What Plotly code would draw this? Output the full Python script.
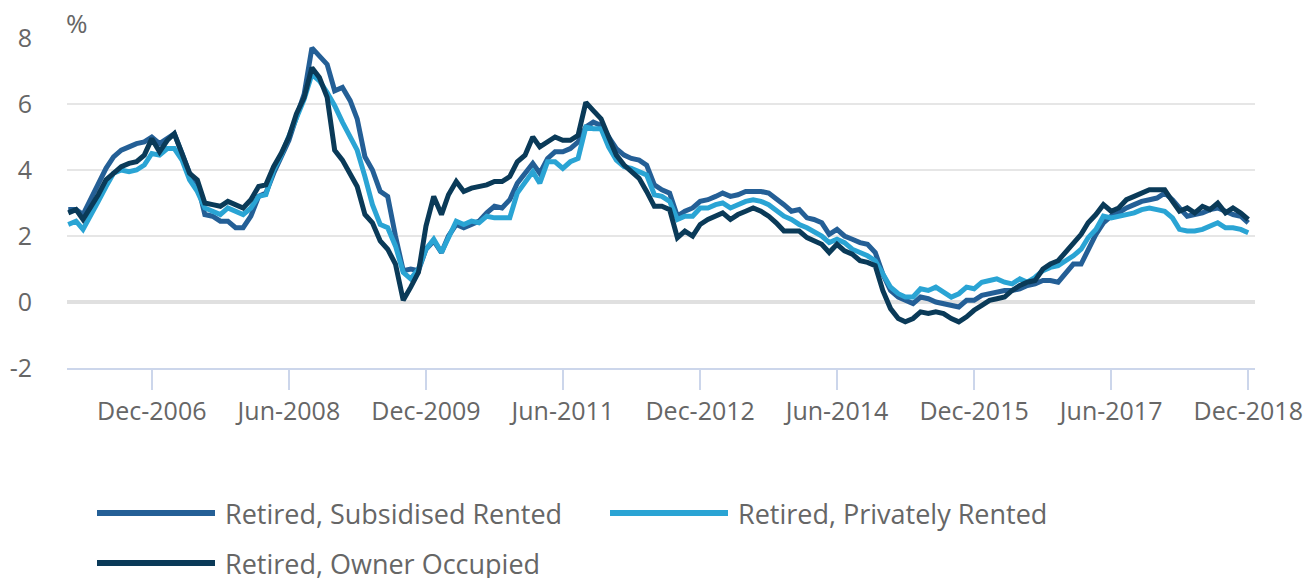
import pandas as pd
import plotly.graph_objects as go

dates = pd.date_range("2006-01-01", periods=156, freq="MS")

subsidised = [
    2.8, 2.8, 2.65, 3.1, 3.6, 4.05, 4.4, 4.6, 4.7, 4.8, 4.85, 5.0,
    4.8, 4.95, 5.1, 4.5, 3.9, 3.6, 2.65, 2.6, 2.45, 2.45, 2.25, 2.25,
    2.6, 3.2, 3.3, 3.9, 4.4, 4.9, 5.6, 6.3, 7.7, 7.45, 7.2, 6.4,
    6.5, 6.1, 5.55, 4.4, 4.0, 3.35, 3.2, 2.0, 0.95, 1.0, 0.95, 1.6,
    1.85, 1.5, 2.0, 2.35, 2.25, 2.35, 2.45, 2.7, 2.9, 2.85, 3.1, 3.6,
    3.9, 4.2, 3.9, 4.35, 4.55, 4.55, 4.65, 4.85, 5.3, 5.45, 5.35, 5.0,
    4.65, 4.45, 4.35, 4.3, 4.15, 3.55, 3.4, 3.3, 2.6, 2.75, 2.85, 3.05,
    3.1, 3.2, 3.3, 3.2, 3.25, 3.35, 3.35, 3.35, 3.3, 3.15, 2.95, 2.75,
    2.8, 2.55, 2.5, 2.4, 2.05, 2.2, 2.0, 1.9, 1.8, 1.75, 1.5, 0.85,
    0.35, 0.15, 0.05, -0.05, 0.15, 0.1, 0.0, -0.05, -0.1, -0.15, 0.05, 0.05,
    0.2, 0.25, 0.3, 0.35, 0.35, 0.4, 0.5, 0.55, 0.65, 0.65, 0.6, 0.9,
    1.15, 1.15, 1.6, 2.05, 2.4, 2.6, 2.7, 2.85, 2.95, 3.05, 3.1, 3.15,
    3.3, 3.1, 2.85, 2.6, 2.65, 2.7, 2.8, 2.85, 2.75, 2.65, 2.6, 2.4,
]

private = [
    2.35, 2.45, 2.2, 2.6, 3.05, 3.5, 3.9, 4.0, 3.95, 4.0, 4.15, 4.5,
    4.45, 4.65, 4.65, 4.3, 3.7, 3.35, 2.85, 2.75, 2.65, 2.85, 2.75, 2.65,
    2.85, 3.2, 3.25, 4.0, 4.45, 5.0, 5.6, 6.15, 6.9, 6.7, 6.35, 5.95,
    5.45, 5.0, 4.6, 3.8, 2.95, 2.35, 2.25, 1.7, 0.9, 0.7, 1.0, 1.6,
    1.9, 1.5, 1.95, 2.45, 2.35, 2.45, 2.4, 2.6, 2.55, 2.55, 2.55, 3.3,
    3.6, 3.95, 3.6, 4.25, 4.25, 4.05, 4.25, 4.35, 5.3, 5.25, 5.25, 4.7,
    4.3, 4.1, 4.05, 3.95, 3.85, 3.25, 3.2, 3.05, 2.5, 2.6, 2.6, 2.85,
    2.85, 2.95, 3.0, 2.85, 2.95, 3.05, 3.1, 3.05, 2.95, 2.8, 2.6, 2.5,
    2.35, 2.25, 2.15, 2.0, 1.8, 1.9, 1.8, 1.6, 1.5, 1.4, 1.25, 0.85,
    0.45, 0.25, 0.15, 0.15, 0.4, 0.35, 0.45, 0.3, 0.15, 0.25, 0.45, 0.4,
    0.6, 0.65, 0.7, 0.6, 0.55, 0.7, 0.6, 0.75, 0.95, 1.05, 1.1, 1.25,
    1.4, 1.6, 1.95, 2.2, 2.6, 2.55, 2.6, 2.65, 2.7, 2.8, 2.85, 2.8,
    2.75, 2.55, 2.2, 2.15, 2.15, 2.2, 2.3, 2.4, 2.25, 2.25, 2.2, 2.1,
]

owner = [
    2.7, 2.8, 2.5, 2.85, 3.25, 3.7, 3.9, 4.1, 4.2, 4.25, 4.45, 4.95,
    4.55, 4.9, 5.1, 4.5, 3.9, 3.7, 3.0, 2.95, 2.9, 3.05, 2.95, 2.85,
    3.1, 3.5, 3.55, 4.1, 4.5, 5.0, 5.7, 6.2, 7.1, 6.8, 6.2, 4.6,
    4.3, 3.9, 3.5, 2.65, 2.4, 1.85, 1.6, 1.15, 0.05, 0.45, 0.9, 2.3,
    3.2, 2.65, 3.25, 3.65, 3.35, 3.45, 3.5, 3.55, 3.65, 3.65, 3.8, 4.25,
    4.45, 5.0, 4.7, 4.85, 5.0, 4.9, 4.9, 5.05, 6.05, 5.8, 5.55, 5.0,
    4.45, 4.15, 3.95, 3.75, 3.35, 2.9, 2.9, 2.8, 1.95, 2.15, 2.0, 2.35,
    2.5, 2.6, 2.7, 2.5, 2.65, 2.75, 2.85, 2.75, 2.6, 2.4, 2.15, 2.15,
    2.15, 1.95, 1.85, 1.75, 1.5, 1.75, 1.55, 1.45, 1.25, 1.2, 1.1, 0.35,
    -0.2, -0.5, -0.6, -0.5, -0.3, -0.35, -0.3, -0.35, -0.5, -0.6, -0.45, -0.25,
    -0.1, 0.05, 0.1, 0.15, 0.35, 0.5, 0.6, 0.65, 1.0, 1.15, 1.25, 1.5,
    1.75, 2.05, 2.4, 2.65, 2.95, 2.75, 2.85, 3.1, 3.2, 3.3, 3.4, 3.4,
    3.4, 3.05, 2.75, 2.85, 2.7, 2.9, 2.8, 3.0, 2.7, 2.85, 2.7, 2.5,
]

series_names = ["Retired, Subsidised Rented", "Retired, Privately Rented", "Retired, Owner Occupied"]
series_values = [subsidised, private, owner]
colors = ["#245f96", "#2aa4d4", "#0a3a58"]

tick_dates = ["2006-12-01", "2008-06-01", "2009-12-01", "2011-06-01", "2012-12-01",
              "2014-06-01", "2015-12-01", "2017-06-01", "2018-12-01"]
tick_labels = ["Dec-2006", "Jun-2008", "Dec-2009", "Jun-2011", "Dec-2012",
               "Jun-2014", "Dec-2015", "Jun-2017", "Dec-2018"]
y_ticks = [-2, 0, 2, 4, 6, 8]
y_labels = ["-2", "0", "2", "4", "6", "8"]

FONT = "Open Sans"
TXT = "#666666"

FIG_W, FIG_H = 1307, 578
L, R, T, B = 67, 1255, 38, 368   # plot area in page pixels
W, H = R - L, B - T

def px(x):
    return (x - L) / W

def py(y):
    return (B - y) / H

fig = go.Figure()
for name, vals, col in zip(series_names, series_values, colors):
    fig.add_trace(go.Scatter(x=dates, y=vals, name=name, mode="lines",
                             line=dict(color=col, width=5), showlegend=False))

# custom legend (long line symbols)
legend_pos = [(97, 513), (610, 513), (97, 563)]
for (lx, ly), name, col in zip(legend_pos, series_names, colors):
    fig.add_shape(type="line", xref="paper", yref="paper",
                  x0=px(lx), x1=px(lx + 118), y0=py(ly), y1=py(ly),
                  line=dict(color=col, width=6))
    fig.add_annotation(xref="paper", yref="paper", x=px(lx + 126), y=py(ly),
                       text=name, showarrow=False, xanchor="left", yanchor="middle",
                       font=dict(family=FONT, size=27, color=TXT))

fig.add_annotation(xref="paper", yref="paper", x=px(64), y=py(23), text="%",
                   showarrow=False, xanchor="left", yanchor="middle",
                   font=dict(family=FONT, size=26, color=TXT))

fig.update_layout(
    width=FIG_W, height=FIG_H,
    margin=dict(l=L, r=FIG_W - R, t=T, b=FIG_H - B, autoexpand=False),
    paper_bgcolor="white", plot_bgcolor="white",
    font=dict(family=FONT, color=TXT, size=25),
    showlegend=False,
    hovermode=False,
)
fig.update_xaxes(
    type="date", automargin=False,
    range=["2005-12-27", "2018-12-28"],
    tickvals=tick_dates, ticktext=tick_labels,
    showgrid=False,
    showline=True, linecolor="#ccd6eb", linewidth=2,
    ticks="outside", ticklen=20, tickwidth=2, tickcolor="#ccd6eb",
    tickfont=dict(family=FONT, size=25, color=TXT),
    zeroline=False,
)
fig.update_yaxes(
    automargin=False,
    range=[-2, 8], tickvals=y_ticks, ticktext=y_labels,
    showgrid=True, gridcolor="#e6e6e6", gridwidth=2,
    zeroline=True, zerolinecolor="#e0e0e0", zerolinewidth=4,
    showline=False, ticks="", ticklabelstandoff=34,
    tickfont=dict(family=FONT, size=25, color=TXT),
)

fig.write_html(
    "out.html",
    config={"displayModeBar": False},
    post_script="document.body.style.margin='0px';document.body.style.overflow='hidden';",
)
